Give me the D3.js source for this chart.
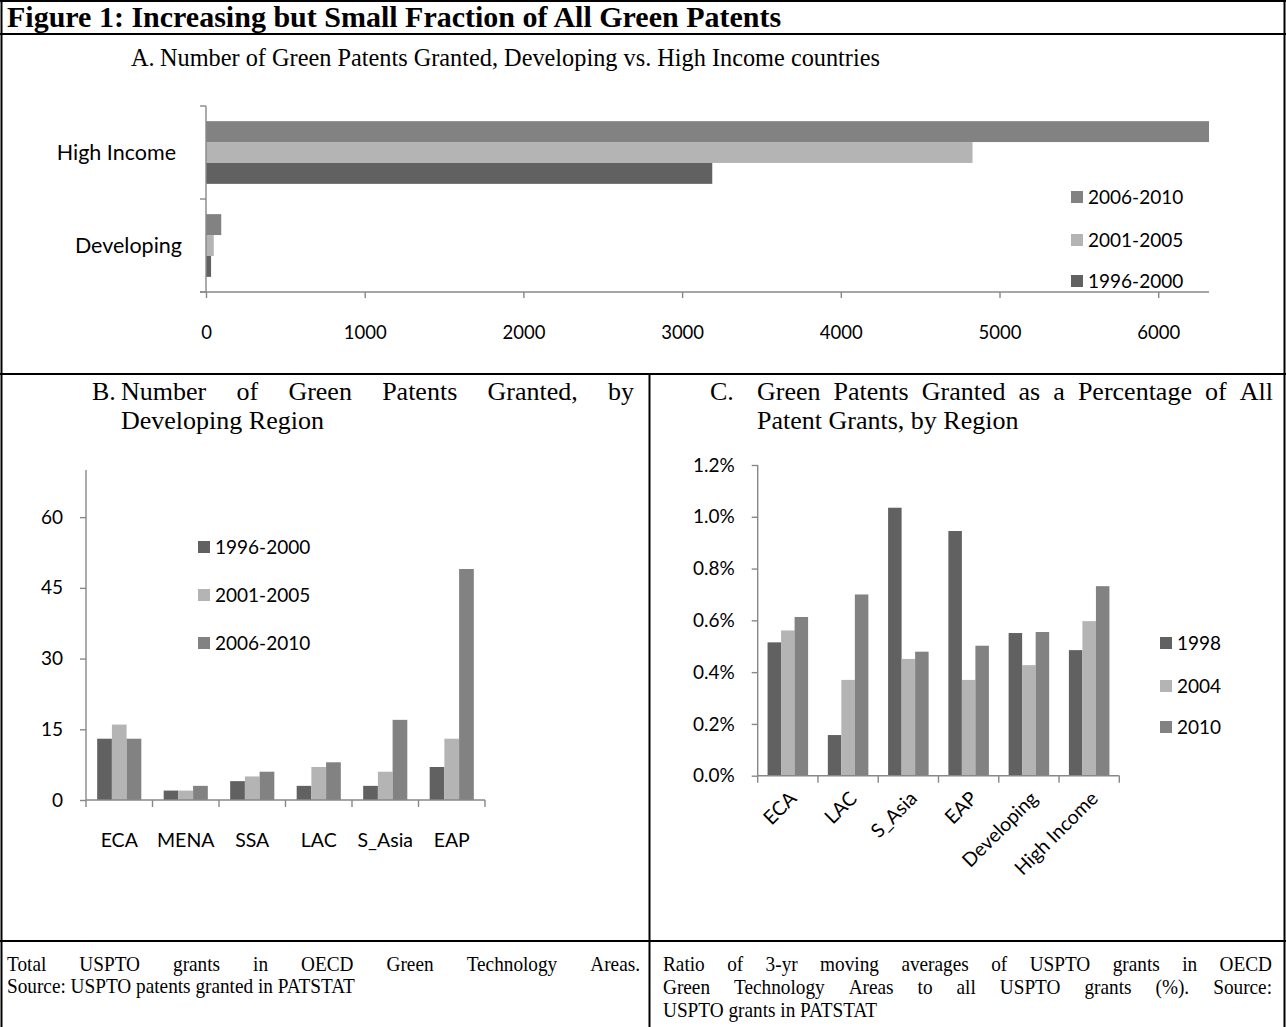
<!DOCTYPE html>
<html><head><meta charset="utf-8">
<script src="https://cdn.jsdelivr.net/npm/d3@7"></script>
<style>body{margin:0;background:#fff} svg{display:block}</style>
</head><body>
<svg id="c" width="1286" height="1027"></svg>
<script>
// ---------- DATA ----------
// Panel A
const panelAGroups = ["High Income", "Developing"];
const panelASeries = ["2006-2010", "2001-2005", "1996-2000"];
const highIncomeCounts = [6320, 4830, 3190];
const developingCounts = [96, 49, 32];
const panelATicks = [0, 1000, 2000, 3000, 4000, 5000, 6000];
// Panel B
const regionsB = ["ECA", "MENA", "SSA", "LAC", "S_Asia", "EAP"];
const seriesB = ["1996-2000", "2001-2005", "2006-2010"];
const counts1996_2000 = [13, 2, 4, 3, 3, 7];
const counts2001_2005 = [16, 2, 5, 7, 6, 13];
const counts2006_2010 = [13, 3, 6, 8, 17, 49];
const ticksB = [0, 15, 30, 45, 60];
// Panel C
const regionsC = ["ECA", "LAC", "S_Asia", "EAP", "Developing", "High Income"];
const seriesC = ["1998", "2004", "2010"];
const share1998 = [0.515, 0.157, 1.035, 0.945, 0.551, 0.485];
const share2004 = [0.561, 0.370, 0.451, 0.370, 0.427, 0.597];
const share2010 = [0.613, 0.700, 0.479, 0.502, 0.555, 0.732];
const ticksC = [0, 0.2, 0.4, 0.6, 0.8, 1.0, 1.2];

// ---------- STYLE ----------
const serif = "'Liberation Serif','Times New Roman',serif";
const sans = "Lato,'Open Sans',sans-serif";
const cDark = "#616161", cLight = "#b4b4b4", cMid = "#828282";
const axisCol = "#888888";
const colorA = d3.scaleOrdinal().domain(panelASeries).range([cMid, cLight, cDark]);
const colorB = d3.scaleOrdinal().domain(seriesB).range([cDark, cLight, cMid]);
const colorC = d3.scaleOrdinal().domain(seriesC).range([cDark, cLight, cMid]);

const svg = d3.select("#c");

// ---------- TABLE FRAME ----------
const frame = svg.append("g").attr("stroke", "#000").attr("stroke-width", 2);
frame.append("line").attr("x1", 1.5).attr("x2", 1.5).attr("y1", 0).attr("y2", 1027);
frame.append("line").attr("x1", 1284.5).attr("x2", 1284.5).attr("y1", 0).attr("y2", 1027);
frame.append("line").attr("x1", 0).attr("x2", 1286).attr("y1", 1).attr("y2", 1);
frame.append("line").attr("x1", 0).attr("x2", 1286).attr("y1", 34).attr("y2", 34);
frame.append("line").attr("x1", 0).attr("x2", 1286).attr("y1", 374).attr("y2", 374);
frame.append("line").attr("x1", 0).attr("x2", 1286).attr("y1", 941).attr("y2", 941);
frame.append("line").attr("x1", 649.5).attr("x2", 649.5).attr("y1", 374).attr("y2", 1027);

// ---------- TEXT HELPERS ----------
function plain(x, y, str, size, opts = {}) {
  const t = svg.append("text").attr("x", x).attr("y", y).text(str)
    .attr("font-family", opts.family || serif).attr("font-size", size)
    .attr("font-weight", opts.weight || "normal").attr("fill", "#000")
    .attr("text-anchor", opts.anchor || "start");
  if (opts.cond) {
    const w = t.node().getComputedTextLength();
    t.attr("textLength", w * opts.cond).attr("lengthAdjust", "spacingAndGlyphs");
  }
  return t;
}
function width(t) {
  const tl = t.attr("textLength");
  return tl ? +tl : t.node().getComputedTextLength();
}
function justify(x0, x1, y, str, size, opts = {}) {
  const words = str.split(" ");
  const nodes = words.map(w => plain(0, y, w, size, opts));
  const widths = nodes.map(width);
  const total = d3.sum(widths);
  const gap = (x1 - x0 - total) / (words.length - 1);
  let x = x0;
  nodes.forEach((n, i) => { n.attr("x", x); x += widths[i] + gap; });
}

// Title and panel headings
plain(7, 27, "Figure 1: Increasing but Small Fraction of All Green Patents", 30, {weight: "bold"});
plain(131, 66, "A.", 24.3);
plain(160, 66, "Number of Green Patents Granted, Developing vs. High Income countries", 24.3);
plain(92, 400, "B.", 26);
justify(121, 634, 400, "Number of Green Patents Granted, by", 26);
plain(121, 429, "Developing Region", 26);
plain(710, 400, "C.", 26);
justify(757, 1273, 400, "Green Patents Granted as a Percentage of All", 26);
plain(757, 429, "Patent Grants, by Region", 26);
// Captions (slightly condensed Times)
const capOpts = {cond: 0.9};
justify(7, 640, 971, "Total USPTO grants in OECD Green Technology Areas.", 21.4, capOpts);
plain(7, 993, "Source: USPTO patents granted in PATSTAT", 21.4, capOpts);
justify(663, 1272, 971, "Ratio of 3-yr moving averages of USPTO grants in OECD", 21.4, capOpts);
justify(663, 1272, 994, "Green Technology Areas to all USPTO grants (%). Source:", 21.4, capOpts);
plain(663, 1017, "USPTO grants in PATSTAT", 21.4, capOpts);

function styleAxis(g, size = 19) {
  g.selectAll("path,line").attr("stroke", axisCol).attr("stroke-width", 1.4);
  g.selectAll("text").attr("font-family", sans).attr("font-size", size).attr("fill", "#000");
}
function legend(x, ys, items, color) {
  items.forEach((s, i) => {
    svg.append("rect").attr("x", x).attr("y", ys[i] - 6).attr("width", 12).attr("height", 12).attr("fill", color(s));
    plain(x + 17, ys[i] + 7, s, 19, {family: sans});
  });
}

// ---------- PANEL A ----------
{
  const x = d3.scaleLinear().domain([0, 6320]).range([206, 1209]);
  const y = d3.scaleBand().domain(panelAGroups).range([106, 292]);
  const ys = d3.scaleBand().domain(panelASeries).range([0, y.bandwidth()]).paddingOuter(0.725);
  const vals = {"High Income": highIncomeCounts, "Developing": developingCounts};
  const g = svg.append("g");
  panelAGroups.forEach(grp => {
    g.selectAll(null).data(panelASeries).join("rect")
      .attr("x", x(0)).attr("y", s => y(grp) + ys(s))
      .attr("width", (s, i) => x(vals[grp][i]) - x(0)).attr("height", ys.bandwidth())
      .attr("fill", s => colorA(s));
  });
  const xa = svg.append("g").attr("transform", "translate(0,292)")
    .call(d3.axisBottom(x).tickValues(panelATicks).tickSize(6).tickSizeOuter(0).tickFormat(d3.format("d")).tickPadding(28));
  xa.select(".domain").attr("d", "M200,0H1209");
  styleAxis(xa, 18.5);
  const ya = svg.append("g");
  ya.append("line").attr("x1", 206).attr("x2", 206).attr("y1", y.range()[0]).attr("y2", y.range()[1]);
  const edges = panelAGroups.map(d => y(d)).concat([y.range()[1]]);
  ya.selectAll(null).data(edges).join("line").attr("x1", 200).attr("x2", 206).attr("y1", d => d).attr("y2", d => d);
  styleAxis(ya);
  plain(176, y("High Income") + y.bandwidth() / 2 + 7, "High Income", 21.5, {family: sans, anchor: "end"});
  plain(182, y("Developing") + y.bandwidth() / 2 + 7, "Developing", 21.5, {family: sans, anchor: "end"});
  legend(1071, [197, 240, 281], panelASeries, colorA);
}

// ---------- PANEL B ----------
{
  const x = d3.scaleBand().domain(regionsB).range([86, 485]);
  const xs = d3.scaleBand().domain(seriesB).range([0, x.bandwidth()]).paddingOuter(0.76);
  const y = d3.scaleLinear().domain([0, 70]).range([800, 470]);
  const vals = [counts1996_2000, counts2001_2005, counts2006_2010];
  const g = svg.append("g");
  seriesB.forEach((s, si) => {
    g.selectAll(null).data(regionsB).join("rect")
      .attr("x", r => x(r) + xs(s)).attr("width", xs.bandwidth())
      .attr("y", (r, i) => y(vals[si][i])).attr("height", (r, i) => y(0) - y(vals[si][i]))
      .attr("fill", colorB(s));
  });
  const ya = svg.append("g").attr("transform", "translate(86,0)")
    .call(d3.axisLeft(y).tickValues(ticksB).tickSize(6).tickSizeOuter(0).tickPadding(17));
  ya.select(".domain").attr("d", "M0,800V470");
  styleAxis(ya);
  const xa = svg.append("g").attr("transform", "translate(0,800)");
  xa.append("line").attr("x1", 86).attr("x2", 485);
  const edges = regionsB.map(r => x(r)).concat([485]);
  xa.selectAll(null).data(edges).join("line").attr("x1", d => d).attr("x2", d => d).attr("y1", 0).attr("y2", 7);
  xa.selectAll(null).data(regionsB).join("text").attr("x", r => x(r) + x.bandwidth() / 2).attr("y", 47)
    .attr("text-anchor", "middle").text(r => r);
  styleAxis(xa, 19.5);
  legend(198, [547, 595, 643], seriesB, colorB);
}

// ---------- PANEL C ----------
{
  const x = d3.scaleBand().domain(regionsC).range([757.7, 1119.3]);
  const xs = d3.scaleBand().domain(seriesC).range([0, x.bandwidth()]).paddingOuter(0.73);
  const y = d3.scaleLinear().domain([0, 1.2]).range([775.7, 465]);
  const vals = [share1998, share2004, share2010];
  const g = svg.append("g");
  seriesC.forEach((s, si) => {
    g.selectAll(null).data(regionsC).join("rect")
      .attr("x", r => x(r) + xs(s)).attr("width", xs.bandwidth())
      .attr("y", (r, i) => y(vals[si][i])).attr("height", (r, i) => y(0) - y(vals[si][i]))
      .attr("fill", colorC(s));
  });
  const ya = svg.append("g").attr("transform", "translate(757.7,0)")
    .call(d3.axisLeft(y).tickValues(ticksC).tickSize(6).tickSizeOuter(0).tickPadding(17).tickFormat(d => d3.format(".1f")(d) + "%"));
  ya.select(".domain").attr("d", "M0,775.7V465");
  styleAxis(ya);
  const xa = svg.append("g").attr("transform", "translate(0,775.7)");
  xa.append("line").attr("x1", 757.7).attr("x2", 1119.3);
  const edges = regionsC.map(r => x(r)).concat([1119.3]);
  xa.selectAll(null).data(edges).join("line").attr("x1", d => d).attr("x2", d => d).attr("y1", 0).attr("y2", 7);
  xa.selectAll(null).data(regionsC).join("text")
    .attr("transform", r => `translate(${x(r) + x.bandwidth() / 2 + 10},${24}) rotate(-45)`)
    .attr("text-anchor", "end").text(r => r);
  styleAxis(xa, 19.5);
  legend(1160, [643, 686, 727], seriesC, colorC);
}
</script>
</body></html>
